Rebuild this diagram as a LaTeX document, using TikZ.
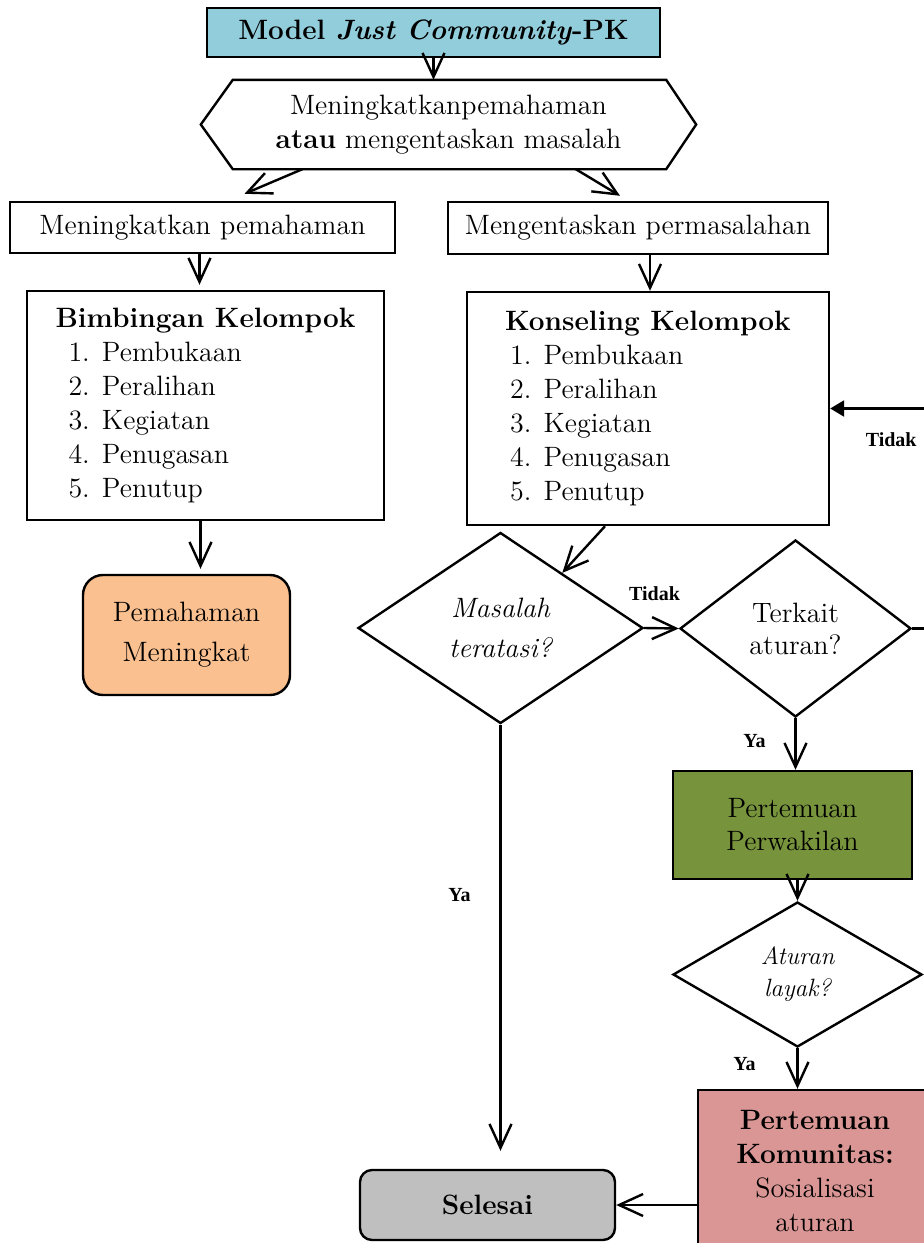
\documentclass[tikz,border=0pt]{standalone}
\usepackage{fontspec}
\newfontfamily\labelfont{Liberation Serif}
\usepackage{tikz}
\usetikzlibrary{positioning,arrows.meta,shapes.geometric,calc}
\definecolor{skyblue}{HTML}{92CDDC}
\definecolor{peach}{HTML}{FAC090}
\definecolor{olive}{HTML}{77933C}
\definecolor{rose}{HTML}{D99694}
\definecolor{ash}{HTML}{BFBFBF}

\begin{document}
\begin{tikzpicture}[
  x=0.5pt, y=-0.5pt,
  box/.style={draw=black, line width=1.2pt, align=center, inner sep=2pt, font=\fontsize{14}{17}\selectfont},
  decision/.style={diamond, draw=black, line width=1.2pt, align=center, inner sep=0pt, font=\itshape\fontsize{14}{20}\selectfont},
  arrow/.style={-{Straight Barb[length=12pt,width=11pt]}, line width=1.2pt},
  back/.style={-{Triangle[length=7pt,width=8pt]}, line width=1.2pt},
  answer/.style={font=\labelfont\bfseries\fontsize{10}{12}\selectfont}
]
  \useasboundingbox (0,0) rectangle (924,1243);
  \node[box, fill=skyblue, minimum width=226.5pt, minimum height=24.5pt] (title) at (433.5,32.5) {\textbf{Model \textit{Just Community}-PK}};
  \node[box, draw=none, minimum width=246.5pt, minimum height=43.5pt] (hex) at (448.5,124.5) {Meningkatkanpemahaman\\\textbf{atau} mengentaskan masalah};
  \draw[line width=1.2pt] (hex.west) -- ([xshift=16pt]hex.north west) -- ([xshift=-15pt]hex.north east) -- (hex.east) -- ([xshift=-15pt]hex.south east) -- ([xshift=16pt]hex.south west) -- cycle;
  \node[box, minimum width=192.5pt, minimum height=25.5pt] (paham) at (202.5,227.5) {Meningkatkan pemahaman};
  \node[box, minimum width=190pt, minimum height=26pt] (entas) at (638,228) {Mengentaskan permasalahan};
  \node[box, align=left, minimum width=178.5pt, minimum height=114.5pt] (bimbingan) at (205.5,405.5) {\textbf{Bimbingan Kelompok}\\\hspace*{6.5pt}1. Pembukaan\\\hspace*{6.5pt}2. Peralihan\\\hspace*{6.5pt}3. Kegiatan\\\hspace*{6.5pt}4. Penugasan\\\hspace*{6.5pt}5. Penutup};
  \node[box, align=left, minimum width=181pt, minimum height=116.5pt] (konseling) at (648,408.5) {\textbf{Konseling Kelompok}\\\hspace*{2.5pt}1. Pembukaan\\\hspace*{2.5pt}2. Peralihan\\\hspace*{2.5pt}3. Kegiatan\\\hspace*{2.5pt}4. Penugasan\\\hspace*{2.5pt}5. Penutup};
  \node[box, fill=peach, rounded corners=10pt, minimum width=103.5pt, minimum height=60pt, font=\fontsize{14}{20}\selectfont] (meningkat) at (186.5,635) {Pemahaman\\Meningkat};
  \node[decision, minimum width=142.5pt, minimum height=95.5pt] (masalah) at (500.5,628) {Masalah\\teratasi?};
  \node[decision, font=\fontsize{14}{16}\selectfont, minimum width=115.5pt, minimum height=88.5pt] (terkait) at (795.5,628.5) {Terkait\\aturan?};
  \node[box, fill=olive, minimum width=119.5pt, minimum height=54pt, font=\fontsize{14}{16.5}\selectfont] (perwakilan) at (792.5,825) {Pertemuan\\Perwakilan};
  \node[decision, font=\itshape\fontsize{12.5}{16}\selectfont, minimum width=124.5pt, minimum height=72.5pt] (layak) at (797.5,974.5) {Aturan\\layak?};
  \node[box, fill=rose, minimum width=117pt, minimum height=81pt] (komunitas) at (815,1171) {\textbf{Pertemuan}\\\textbf{Komunitas:}\\Sosialisasi\\aturan};
  \node[box, fill=ash, rounded corners=6pt, minimum width=127.5pt, minimum height=35pt] (selesai) at (487.5,1205) {\textbf{Selesai}};
  \draw[arrow] (title.south) -- (title.south |- hex.north);
  \draw[arrow] ($(hex.south west)!0.205!(hex.south east)$) -- ($(paham.north)+(21pt,3.5pt)$);
  \draw[arrow] ($(hex.south west)!0.757!(hex.south east)$) -- ($(entas.north)+(-9pt,2.5pt)$);
  \draw[arrow] ($(paham.south)+(-1.5pt,0)$) -- ($(paham.south |- bimbingan.north)+(-1.5pt,2.5pt)$);
  \draw[arrow] ($(entas.south)+(6pt,0)$) -- ($(entas.south |- konseling.north)+(6pt,0)$);
  \draw[arrow] ($(bimbingan.south)+(-2.5pt,0)$) -- ($(bimbingan.south |- meningkat.north)+(-2.5pt,2.5pt)$);
  \draw[arrow] ($(konseling.south)+(-21.5pt,0)$) -- ($(masalah.north)!0.43!(masalah.east)$);
  \draw[arrow] (masalah.east) -- node[answer, above=10pt, pos=0.3] {Tidak} (terkait.west);
  \draw[back] (terkait.east) -- ++(20pt,0) |- node[answer, below=8pt, pos=0.75] {Tidak} (konseling.east);
  \draw[arrow] (terkait.south) -- node[answer, left=11pt, pos=0.45] {Ya} (terkait.south |- perwakilan.north);
  \draw[arrow] (layak.north |- perwakilan.south) -- (layak.north);
  \draw[arrow] (layak.south) -- node[answer, left=17pt, pos=0.38] {Ya} (layak.south |- komunitas.north);
  \draw[arrow] (masalah.south) -- node[answer, left=11pt, pos=0.4] {Ya} ($(masalah.south |- selesai.north)+(0,9pt)$);
  \draw[arrow] (selesai.east -| komunitas.west) -- (selesai.east);
\end{tikzpicture}
\end{document}
